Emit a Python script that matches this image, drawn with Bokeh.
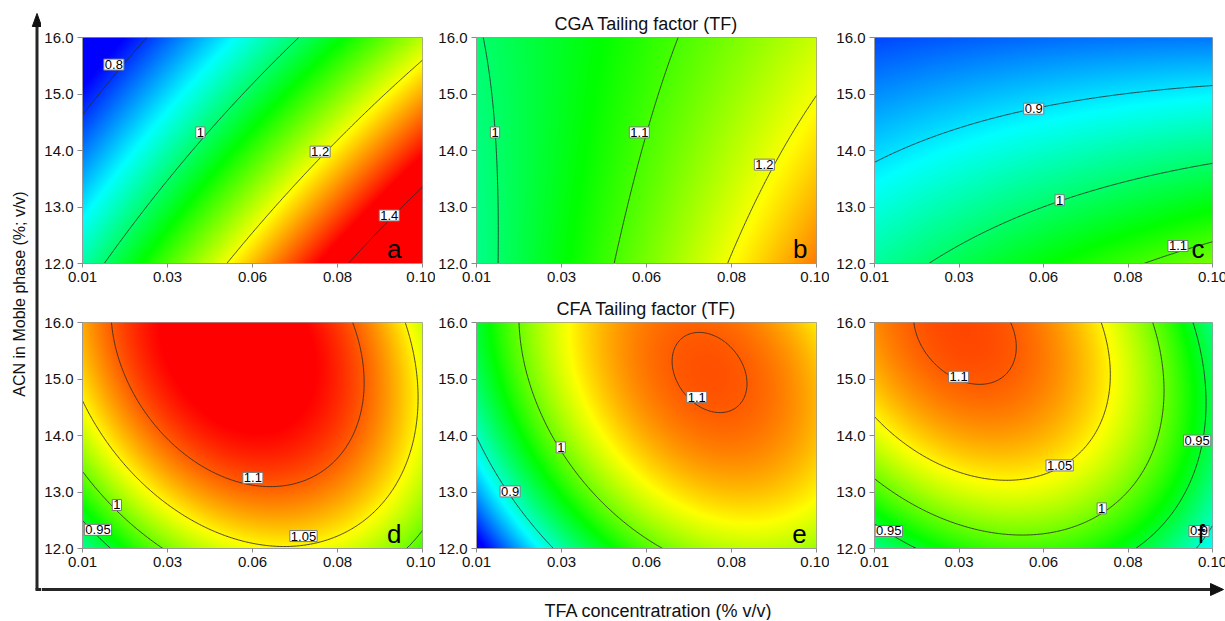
import numpy as np
from contourpy import contour_generator
from bokeh.plotting import figure
from bokeh.layouts import row, column
from bokeh.models import FixedTicker
from bokeh.core.properties import value
from bokeh.embed import file_html
from bokeh.resources import INLINE

FONT = "Liberation Sans"

# ---------------- data ----------------
# design levels of the two factors
tfa_design = [0.01, 0.055, 0.10]      # TFA concentration (% v/v)
acn_design = [12.0, 14.0, 16.0]       # ACN in mobile phase (%)

# tailing factor read from the maps at the design points
# rows: ACN = 12, 14, 16 ; columns: TFA = 0.01, 0.055, 0.10
cga_a = [[0.970, 1.240, 1.520], [0.830, 1.090, 1.350], [0.720, 0.940, 1.160]]
cga_b = [[0.980, 1.130, 1.280], [0.990, 1.100, 1.225], [0.995, 1.085, 1.175]]
cga_c = [[0.972, 1.055, 1.128], [0.891, 0.945, 0.983], [0.810, 0.830, 0.838]]
cfa_d = [[0.915, 1.045, 0.987], [1.030, 1.128, 1.041], [1.074, 1.146, 1.030]]
cfa_e = [[0.7851, 0.9899, 1.0153], [0.9009, 1.0745, 1.0687], [0.9476, 1.0900, 1.0531]]
cfa_f = [[0.920, 0.981, 0.884], [1.035, 1.074, 0.939], [1.084, 1.089, 0.921]]

# contour levels drawn in each panel
levels_a = [0.8, 1.0, 1.2, 1.4]
levels_b = [1.0, 1.1, 1.2]
levels_c = [0.9, 1.0, 1.1]
levels_d = [0.95, 1.0, 1.05, 1.1]
levels_e = [0.9, 1.0, 1.1]
levels_f = [0.9, 0.95, 1.0, 1.05, 1.1]

# contour label texts
labels_a = ["0.8", "1", "1.2", "1.4"]
labels_b = ["1", "1.1", "1.2"]
labels_c = ["0.9", "1", "1.1"]
labels_d = ["1.1", "1.05", "1", "0.95"]
labels_e = ["1.1", "1", "0.9"]
labels_f = ["1.1", "1.05", "1", "0.95", "0.95", "0.9"]

# axis ticks
x_ticks = [0.01, 0.0325, 0.055, 0.0775, 0.10]
x_tick_labels = ["0.01", "0.03", "0.06", "0.08", "0.10"]
y_ticks = [12.0, 13.0, 14.0, 15.0, 16.0]
y_tick_labels = ["12.0", "13.0", "14.0", "15.0", "16.0"]

title_cga = "CGA Tailing factor (TF)"
title_cfa = "CFA Tailing factor (TF)"
x_title = "TFA concentratration (% v/v)"
y_title = "ACN in Moble phase (%; v/v)"

# ---------------- annotation placement (data units) ----------------
lab_pos = {
    "a": ([0.0183, 0.0412, 0.0729, 0.0912], [15.52, 14.32, 13.98, 12.85]),
    "b": ([0.0149, 0.0531, 0.0862], [14.32, 14.32, 13.75]),
    "c": ([0.0524, 0.0593, 0.0908], [14.74, 13.12, 12.31]),
    "d": ([0.0551, 0.0685, 0.0191, 0.0141], [13.25, 12.22, 12.77, 12.33]),
    "e": ([0.0683, 0.0323, 0.0189], [14.68, 13.79, 13.01]),
    "f": ([0.0324, 0.0593, 0.0705, 0.0959, 0.0138, 0.0964], [15.04, 13.47, 12.71, 13.91, 12.31, 12.31]),
}
letter_pos = {"a": (0.0944, 12.265), "b": (0.0976, 12.265), "c": (0.0979, 12.265),
              "d": (0.0944, 12.25), "e": (0.0974, 12.25), "f": (0.0979, 12.25)}

X0, X1 = tfa_design[0], tfa_design[-1]
Y0, Y1 = acn_design[0], acn_design[-1]
XM, XH = (X0 + X1) / 2, (X1 - X0) / 2
YM, YH = (Y0 + Y1) / 2, (Y1 - Y0) / 2


def fit_model(tf):
    gx, gy = np.meshgrid(tfa_design, acn_design)
    a = (gx.ravel() - XM) / XH
    b = (gy.ravel() - YM) / YH
    A = np.column_stack([np.ones_like(a), a, b, a * a, b * b, a * b])
    coef, *_ = np.linalg.lstsq(A, np.asarray(tf, float).ravel(), rcond=None)
    return coef


def evaluate(coef, xs, ys):
    gx, gy = np.meshgrid(xs, ys)
    a = (gx - XM) / XH
    b = (gy - YM) / YH
    return coef[0] + coef[1] * a + coef[2] * b + coef[3] * a * a + coef[4] * b * b + coef[5] * a * b


def to_rgba(z, lo, hi):
    t = np.clip((z - lo) / (hi - lo), 0, 1)
    st = [0, 0.25, 0.5, 0.75, 1.0]
    r = np.interp(t, st, [0, 0, 0, 255, 255])
    g = np.interp(t, st, [0, 255, 255, 255, 0])
    bl = np.interp(t, st, [255, 255, 0, 0, 0])
    img = np.empty(z.shape, dtype=np.uint32)
    v = img.view(dtype=np.uint8).reshape(z.shape + (4,))
    v[..., 0] = r.astype(np.uint8)
    v[..., 1] = g.astype(np.uint8)
    v[..., 2] = bl.astype(np.uint8)
    v[..., 3] = 255
    return img


FH = 226


def make_panel(tf, lo, hi, levels, labels, key, fw, bl, br, bt, bb, title=None):
    p = figure(frame_width=fw, frame_height=FH, x_range=(X0, X1), y_range=(Y0, Y1),
               min_border_left=bl, min_border_right=br, min_border_top=bt, min_border_bottom=bb,
               toolbar_location=None, output_backend="svg", outline_line_color="#9a9a9a",
               background_fill_color="white", border_fill_color="white")
    p.grid.visible = False
    coef = fit_model(tf)
    # colour map
    xs_img = X0 + (np.arange(fw) + 0.5) / fw * (X1 - X0)
    ys_img = Y0 + (np.arange(FH) + 0.5) / FH * (Y1 - Y0)
    z_img = evaluate(coef, xs_img, ys_img)
    p.image_rgba(image=[to_rgba(z_img, lo, hi)], x=X0, y=Y0, dw=X1 - X0, dh=Y1 - Y0)
    # contour lines
    xs_c = np.linspace(X0, X1, 241)
    ys_c = np.linspace(Y0, Y1, 161)
    z_c = evaluate(coef, xs_c, ys_c)
    gen = contour_generator(x=xs_c, y=ys_c, z=z_c)
    mx, my = [], []
    for lev in levels:
        for seg in gen.lines(lev):
            mx.append(seg[:, 0])
            my.append(seg[:, 1])
    p.multi_line(xs=mx, ys=my, line_color="#2b2b2b", line_alpha=0.85, line_width=1)
    # contour labels
    lx, ly = lab_pos[key]
    p.text(x=lx, y=ly, text=labels, text_font=value(FONT), text_font_size="13px",
           text_align="center", text_baseline="middle", text_color="black",
           background_fill_color="white", border_line_color="#7a7a7a", border_line_width=1,
           padding=1)
    # panel letter
    tx, ty = letter_pos[key]
    p.text(x=[tx], y=[ty], text=[key], text_font=value(FONT), text_font_size="26px",
           text_align="right", text_baseline="middle", text_color="black")
    # axes
    p.xaxis.ticker = FixedTicker(ticks=x_ticks)
    p.xaxis.major_label_overrides = dict(zip(x_ticks, x_tick_labels))
    p.yaxis.ticker = FixedTicker(ticks=y_ticks)
    p.yaxis.major_label_overrides = dict(zip(y_ticks, y_tick_labels))
    for ax in (p.xaxis, p.yaxis):
        ax.axis_line_color = "#9a9a9a"
        ax.major_tick_line_color = "#8a8a8a"
        ax.minor_tick_line_color = None
        ax.major_tick_in = 0
        ax.major_label_text_font = FONT
        ax.major_label_text_font_size = "15px"
        ax.major_label_text_color = "#111111"
    p.xaxis.major_tick_out = 4
    p.xaxis.major_label_standoff = 4
    p.yaxis.major_tick_out = 5
    p.yaxis.major_label_standoff = 4
    if title:
        p.title.text = title
        p.title.align = "center"
        p.title.text_font = FONT
        p.title.text_font_size = "18px"
        p.title.text_font_style = "normal"
        p.title.text_color = "#111111"
        p.title.standoff = 8
    return p


CGA_LO, CGA_HI = 0.77, 1.35
CFA_LO, CFA_HI = 0.80, 1.13

pa = make_panel(cga_a, CGA_LO, CGA_HI, levels_a, labels_a, "a", 340, 38, 13, 37, 27)
pb = make_panel(cga_b, CGA_LO, CGA_HI, levels_b, labels_b, "b", 340, 41, 13, 37, 27, title_cga)
pc = make_panel(cga_c, CGA_LO, CGA_HI, levels_c, labels_c, "c", 338, 45, 15, 37, 27)
pd = make_panel(cfa_d, CFA_LO, CFA_HI, levels_d, labels_d, "d", 340, 38, 13, 32, 27)
pe = make_panel(cfa_e, CFA_LO, CFA_HI, levels_e, labels_e, "e", 340, 41, 13, 32, 27, title_cfa)
pf = make_panel(cfa_f, CFA_LO, CFA_HI, levels_f, labels_f, "f", 338, 45, 15, 32, 27)


def strip(w, h):
    s = figure(frame_width=w, frame_height=h, x_range=(0, w), y_range=(0, h),
               min_border=0, x_axis_location=None, y_axis_location=None,
               toolbar_location=None, output_backend="svg", outline_line_color=None)
    s.grid.visible = False
    return s


TOTAL_H = 620
# left strip: vertical arrow axis + y title
LW = 41
ls = strip(LW, TOTAL_H)
ls.line(x=[36.5, 36.5], y=[31, 597], line_color="#262626", line_width=3)
ls.line(x=[35.0, 41.0], y=[31, 31], line_color="#262626", line_width=3)
ls.patch(x=[31.8, 36.5, 41.2], y=[594, 607, 594], fill_color="#111111", line_color="#111111")
ls.text(x=[18.5], y=[326.5], text=[y_title], angle=np.pi / 2, text_font=value(FONT),
        text_font_size="16px", text_align="center", text_baseline="middle", text_color="#111111")

# bottom strip: horizontal arrow axis + x title
BW, BH = 1183, 45
bs = strip(BW, BH)
bs.line(x=[0, 1172], y=[31, 31], line_color="#262626", line_width=3)
bs.patch(x=[1169, 1182, 1169], y=[25, 31, 37], fill_color="#111111", line_color="#111111")
bs.text(x=[617], y=[10], text=[x_title], text_font=value(FONT), text_font_size="18px",
        text_align="center", text_baseline="middle", text_color="#111111")

layout = row(ls, column(row(pa, pb, pc), row(pd, pe, pf), bs))

with open("out.html", "w") as fh:
    fh.write(file_html(layout, INLINE))
